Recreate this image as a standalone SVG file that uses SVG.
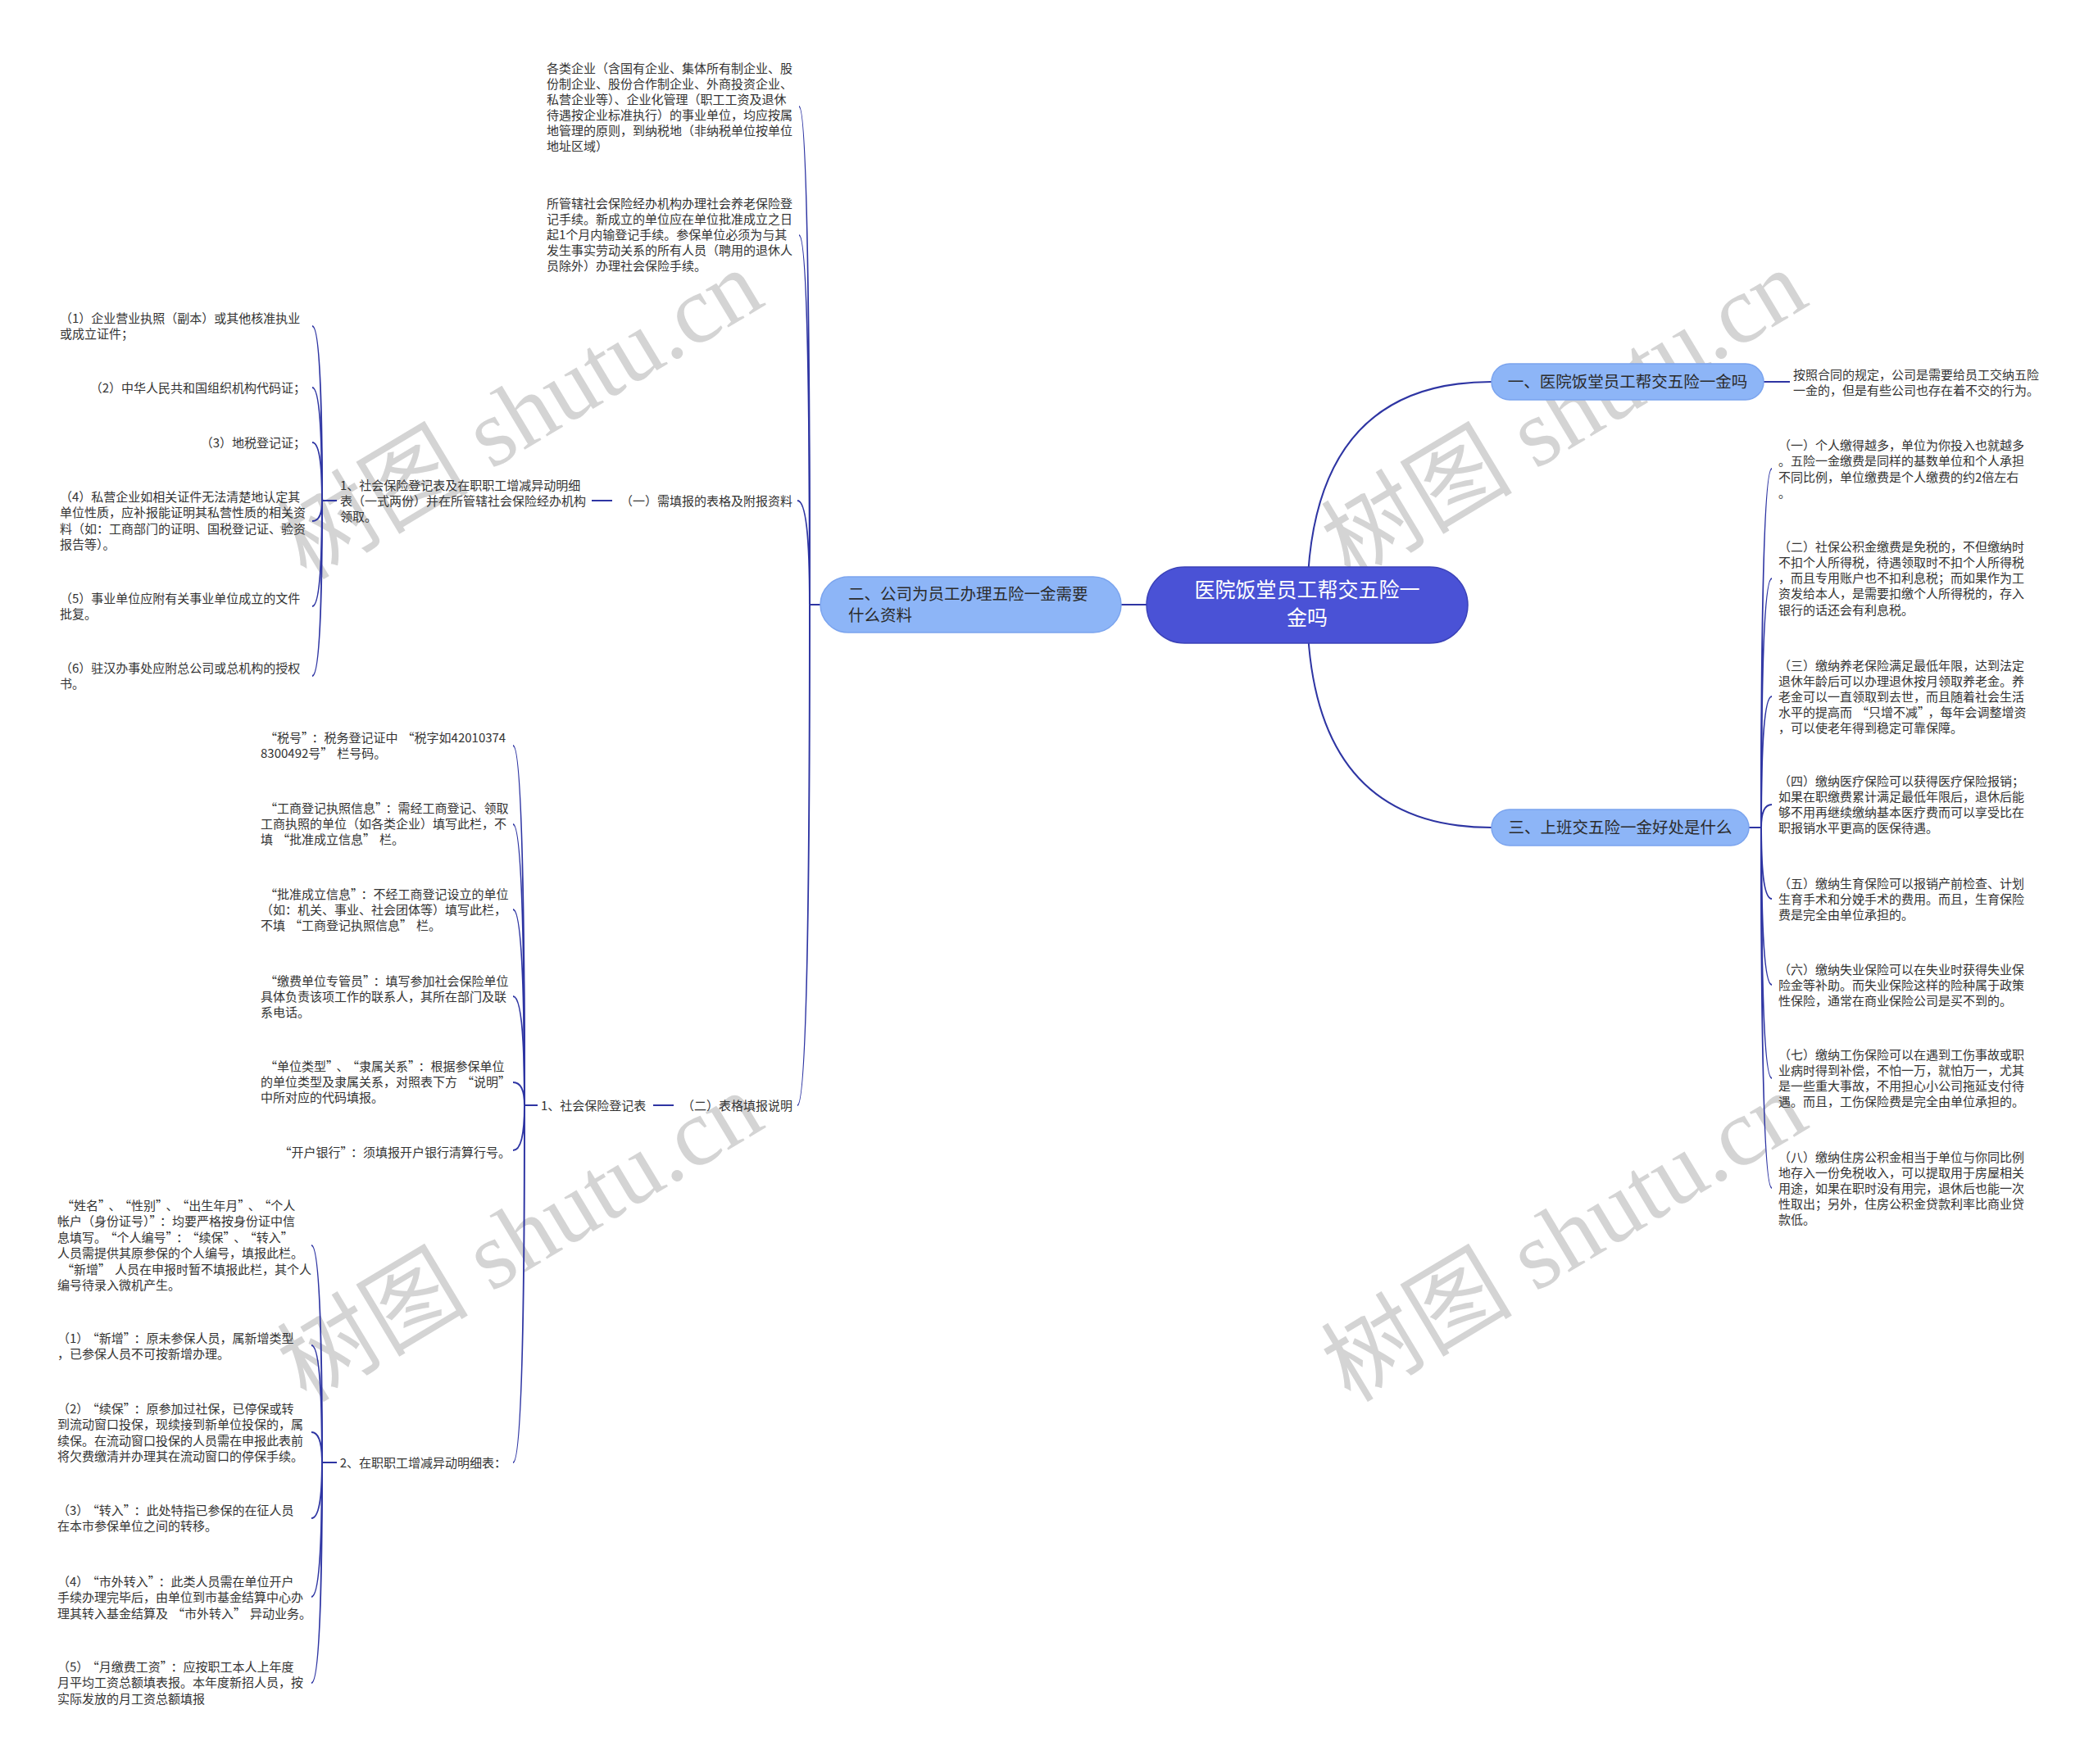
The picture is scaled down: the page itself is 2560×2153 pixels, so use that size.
<svg xmlns="http://www.w3.org/2000/svg" width="2560" height="2153" viewBox="0 0 2560 2153">
<style>
.t{font-family:'Noto Sans CJK SC','Noto Sans',sans-serif;font-size:15px;fill:#333}
.e{text-anchor:end}
.qr{letter-spacing:5px}
.n1{font-family:'Noto Sans CJK SC','Noto Sans',sans-serif;font-size:19.5px;fill:#2b2b2b}
.rt{font-family:'Noto Sans CJK SC','Noto Sans',sans-serif;font-size:25px;fill:#fff;text-anchor:middle}
.wm{font-family:'Liberation Serif','Noto Sans CJK SC',serif;font-size:117px;fill:#d4d4d4;text-anchor:middle}
.c{fill:none;stroke:#2e35a3;stroke-width:2}
.lv1{fill:#8db5f7;stroke:#7ba4ee;stroke-width:1.5}
</style>
<rect width="2560" height="2153" fill="#fff"/>
<g id="watermarks">
<text class="wm" transform="translate(655 540) rotate(-31)">树图 shutu.cn</text>
<text class="wm" transform="translate(1929 540) rotate(-31)">树图 shutu.cn</text>
<text class="wm" transform="translate(655 1544) rotate(-31)">树图 shutu.cn</text>
<text class="wm" transform="translate(1929 1544) rotate(-31)">树图 shutu.cn</text>
</g>
<g id="connectors">
<path class="c" d="M1368 738 L1400 738"/>
<path class="c" d="M1595 738 Q1595 466 1820 466"/>
<path class="c" d="M1595 738 Q1595 1010 1820 1010"/>
<path class="c" d="M2152 466 L2184 466"/>
<path class="c" d="M2134 1010 L2149 1010"/>
<path class="c" d="M2149 1010 Q2149 572 2162 572"/>
<path class="c" d="M2149 1010 Q2149 706 2162 706"/>
<path class="c" d="M2149 1010 Q2149 850 2162 850"/>
<path class="c" d="M2149 1010 Q2149 982 2162 982"/>
<path class="c" d="M2149 1010 Q2149 1097 2162 1097"/>
<path class="c" d="M2149 1010 Q2149 1202 2162 1202"/>
<path class="c" d="M2149 1010 Q2149 1316 2162 1316"/>
<path class="c" d="M2149 1010 Q2149 1450 2162 1450"/>
<path class="c" d="M1001 738 L988 738"/>
<path class="c" d="M988 738 Q988 130 975 130"/>
<path class="c" d="M988 738 Q988 287 975 287"/>
<path class="c" d="M988 738 Q988 611 973 611"/>
<path class="c" d="M988 738 Q988 1349 973 1349"/>
<path class="c" d="M722 611 L747 611"/>
<path class="c" d="M411 611 L393 611"/>
<path class="c" d="M393 611 Q393 398 381 398"/>
<path class="c" d="M393 611 Q393 473 381 473"/>
<path class="c" d="M393 611 Q393 540 381 540"/>
<path class="c" d="M393 611 Q393 636 381 636"/>
<path class="c" d="M393 611 Q393 740 381 740"/>
<path class="c" d="M393 611 Q393 825 381 825"/>
<path class="c" d="M797 1349 L822 1349"/>
<path class="c" d="M656 1349 L640 1349"/>
<path class="c" d="M640 1349 Q640 910 626 910"/>
<path class="c" d="M640 1349 Q640 1006 626 1006"/>
<path class="c" d="M640 1349 Q640 1110 626 1110"/>
<path class="c" d="M640 1349 Q640 1216 626 1216"/>
<path class="c" d="M640 1349 Q640 1321 626 1321"/>
<path class="c" d="M640 1349 Q640 1404 626 1404"/>
<path class="c" d="M640 1349 Q640 1785 626 1785"/>
<path class="c" d="M411 1785 L393 1785"/>
<path class="c" d="M393 1785 Q393 1520 380 1520"/>
<path class="c" d="M393 1785 Q393 1642 380 1642"/>
<path class="c" d="M393 1785 Q393 1748 380 1748"/>
<path class="c" d="M393 1785 Q393 1853 380 1853"/>
<path class="c" d="M393 1785 Q393 1949 380 1949"/>
<path class="c" d="M393 1785 Q393 2054 380 2054"/>
</g>
<g id="root">
<rect x="1399" y="692" width="392" height="93" rx="46.5" fill="#4a52d6" stroke="#3b42b8" stroke-width="1.5"/>
<text class="rt"><tspan x="1595" y="729">医院饭堂员工帮交五险一</tspan><tspan x="1595" y="763">金吗</tspan></text>
</g>
<g id="n1">
<rect class="lv1" x="1820" y="444" width="332" height="44" rx="22"/>
<text class="n1" x="1986" y="473" text-anchor="middle">一、医院饭堂员工帮交五险一金吗</text>
</g>
<g id="n1-1">
<text class="t"><tspan x="2188" y="462.5">按照合同的规定，公司是需要给员工交纳五险</tspan><tspan x="2188" dy="19.5">一金的，但是有些公司也存在着不交的行为。</tspan></text>
</g>
<g id="n2">
<rect class="lv1" x="1001" y="704" width="367" height="68" rx="34"/>
<text class="n1"><tspan x="1035" y="732">二、公司为员工办理五险一金需要</tspan><tspan x="1035" y="758">什么资料</tspan></text>
</g>
<g id="n3">
<rect class="lv1" x="1820" y="988" width="314" height="44" rx="22"/>
<text class="n1" x="1977" y="1017" text-anchor="middle">三、上班交五险一金好处是什么</text>
</g>
<g id="n2-a">
<text class="t"><tspan x="667" y="88.5">各类企业（含国有企业、集体所有制企业、股</tspan><tspan x="667" dy="19.1">份制企业、股份合作制企业、外商投资企业、</tspan><tspan x="667" dy="19.1">私营企业等）、企业化管理（职工工资及退休</tspan><tspan x="667" dy="19.1">待遇按企业标准执行）的事业单位，均应按属</tspan><tspan x="667" dy="19.1">地管理的原则，到纳税地（非纳税单位按单位</tspan><tspan x="667" dy="19.1">地址区域）</tspan></text>
</g>
<g id="n2-b">
<text class="t"><tspan x="667" y="253.5">所管辖社会保险经办机构办理社会养老保险登</tspan><tspan x="667" dy="19.2">记手续。新成立的单位应在单位批准成立之日</tspan><tspan x="667" dy="19.2">起1个月内输登记手续。参保单位必须为与其</tspan><tspan x="667" dy="19.2">发生事实劳动关系的所有人员（聘用的退休人</tspan><tspan x="667" dy="19.2">员除外）办理社会保险手续。</tspan></text>
</g>
<g id="n2-c">
<text class="t e" x="967" y="616.5">（一）需填报的表格及附报资料</text>
</g>
<g id="n2-c-1">
<text class="t"><tspan x="415" y="597.5">1、社会保险登记表及在职职工增减异动明细</tspan><tspan x="415" dy="19.2">表（一式两份）并在所管辖社会保险经办机构</tspan><tspan x="415" dy="19.2">领取。</tspan></text>
</g>
<g id="n2-c-1-1">
<text class="t"><tspan x="73" y="394">（1）企业营业执照（副本）或其他核准执业</tspan><tspan x="73" dy="19.2">或成立证件；</tspan></text>
</g>
<g id="n2-c-1-2"><text class="t e" x="373" y="478.5">（2）中华人民共和国组织机构代码证；</text></g>
<g id="n2-c-1-3"><text class="t e" x="373" y="545.5">（3）地税登记证；</text></g>
<g id="n2-c-1-4">
<text class="t"><tspan x="73" y="612">（4）私营企业如相关证件无法清楚地认定其</tspan><tspan x="73" dy="19.3">单位性质，应补报能证明其私营性质的相关资</tspan><tspan x="73" dy="19.3">料（如：工商部门的证明、国税登记证、验资</tspan><tspan x="73" dy="19.3">报告等）。</tspan></text>
</g>
<g id="n2-c-1-5">
<text class="t"><tspan x="73" y="735.5">（5）事业单位应附有关事业单位成立的文件</tspan><tspan x="73" dy="19.3">批复。</tspan></text>
</g>
<g id="n2-c-1-6">
<text class="t"><tspan x="73" y="820.5">（6）驻汉办事处应附总公司或总机构的授权</tspan><tspan x="73" dy="19.3">书。</tspan></text>
</g>
<g id="n2-d">
<text class="t e" x="967" y="1354.5">（二）表格填报说明</text>
</g>
<g id="n2-d-1">
<text class="t" x="660" y="1354.5">1、社会保险登记表</text>
</g>
<g id="n2-d-1-1">
<text class="t"><tspan x="318" y="905.5"><tspan dx="5">“</tspan>税号<tspan class="qr">”</tspan>：税务登记证中<tspan dx="5">“</tspan>税字如42010374</tspan><tspan x="318" dy="19.3">8300492号<tspan class="qr">”</tspan>栏号码。</tspan></text>
</g>
<g id="n2-d-1-2">
<text class="t"><tspan x="318" y="991.5"><tspan dx="5">“</tspan>工商登记执照信息<tspan class="qr">”</tspan>：需经工商登记、领取</tspan><tspan x="318" dy="19.3">工商执照的单位（如各类企业）填写此栏，不</tspan><tspan x="318" dy="19.3">填<tspan dx="5">“</tspan>批准成立信息<tspan class="qr">”</tspan>栏。</tspan></text>
</g>
<g id="n2-d-1-3">
<text class="t"><tspan x="318" y="1096.5"><tspan dx="5">“</tspan>批准成立信息<tspan class="qr">”</tspan>：不经工商登记设立的单位</tspan><tspan x="318" dy="19.3">（如：机关、事业、社会团体等）填写此栏，</tspan><tspan x="318" dy="19.3">不填<tspan dx="5">“</tspan>工商登记执照信息<tspan class="qr">”</tspan>栏。</tspan></text>
</g>
<g id="n2-d-1-4">
<text class="t"><tspan x="318" y="1202.5"><tspan dx="5">“</tspan>缴费单位专管员<tspan class="qr">”</tspan>：填写参加社会保险单位</tspan><tspan x="318" dy="19.3">具体负责该项工作的联系人，其所在部门及联</tspan><tspan x="318" dy="19.3">系电话。</tspan></text>
</g>
<g id="n2-d-1-5">
<text class="t"><tspan x="318" y="1306.5"><tspan dx="5">“</tspan>单位类型<tspan class="qr">”</tspan>、<tspan dx="5">“</tspan>隶属关系<tspan class="qr">”</tspan>：根据参保单位</tspan><tspan x="318" dy="19.3">的单位类型及隶属关系，对照表下方<tspan dx="5">“</tspan>说明<tspan class="qr">”</tspan></tspan><tspan x="318" dy="19.3">中所对应的代码填报。</tspan></text>
</g>
<g id="n2-d-1-6"><text class="t e" x="618" y="1411.5"><tspan dx="5">“</tspan>开户银行<tspan class="qr">”</tspan>：须填报开户银行清算行号。</text></g>
<g id="n2-d-1-7"><text class="t e" x="618" y="1790.5">2、在职职工增减异动明细表：</text></g>
<g id="n2-d-1-7-1">
<text class="t"><tspan x="70" y="1476.5"><tspan dx="5">“</tspan>姓名<tspan class="qr">”</tspan>、<tspan dx="5">“</tspan>性别<tspan class="qr">”</tspan>、<tspan dx="5">“</tspan>出生年月<tspan class="qr">”</tspan>、<tspan dx="5">“</tspan>个人</tspan><tspan x="70" dy="19.5">帐户（身份证号）<tspan class="qr">”</tspan>：均要严格按身份证中信</tspan><tspan x="70" dy="19.5">息填写。<tspan dx="5">“</tspan>个人编号<tspan class="qr">”</tspan>：<tspan dx="5">“</tspan>续保<tspan class="qr">”</tspan>、<tspan dx="5">“</tspan>转入<tspan class="qr">”</tspan></tspan><tspan x="70" dy="19.5">人员需提供其原参保的个人编号，填报此栏。</tspan><tspan x="70" dy="19.5"><tspan dx="5">“</tspan>新增<tspan class="qr">”</tspan>人员在申报时暂不填报此栏，其个人</tspan><tspan x="70" dy="19.5">编号待录入微机产生。</tspan></text>
</g>
<g id="n2-d-1-7-2">
<text class="t"><tspan x="70" y="1638.5">（1）<tspan dx="5">“</tspan>新增<tspan class="qr">”</tspan>：原未参保人员，属新增类型</tspan><tspan x="70" dy="19.5">，已参保人员不可按新增办理。</tspan></text>
</g>
<g id="n2-d-1-7-3">
<text class="t"><tspan x="70" y="1724.5">（2）<tspan dx="5">“</tspan>续保<tspan class="qr">”</tspan>：原参加过社保，已停保或转</tspan><tspan x="70" dy="19.5">到流动窗口投保，现续接到新单位投保的，属</tspan><tspan x="70" dy="19.5">续保。在流动窗口投保的人员需在申报此表前</tspan><tspan x="70" dy="19.5">将欠费缴清并办理其在流动窗口的停保手续。</tspan></text>
</g>
<g id="n2-d-1-7-4">
<text class="t"><tspan x="70" y="1848.5">（3）<tspan dx="5">“</tspan>转入<tspan class="qr">”</tspan>：此处特指已参保的在征人员</tspan><tspan x="70" dy="19.5">在本市参保单位之间的转移。</tspan></text>
</g>
<g id="n2-d-1-7-5">
<text class="t"><tspan x="70" y="1935.5">（4）<tspan dx="5">“</tspan>市外转入<tspan class="qr">”</tspan>：此类人员需在单位开户</tspan><tspan x="70" dy="19.5">手续办理完毕后，由单位到市基金结算中心办</tspan><tspan x="70" dy="19.5">理其转入基金结算及<tspan dx="5">“</tspan>市外转入<tspan class="qr">”</tspan>异动业务。</tspan></text>
</g>
<g id="n2-d-1-7-6">
<text class="t"><tspan x="70" y="2039.5">（5）<tspan dx="5">“</tspan>月缴费工资<tspan class="qr">”</tspan>：应按职工本人上年度</tspan><tspan x="70" dy="19.5">月平均工资总额填表报。本年度新招人员，按</tspan><tspan x="70" dy="19.5">实际发放的月工资总额填报</tspan></text>
</g>
<g id="n3-1">
<text class="t"><tspan x="2170" y="548.5">（一）个人缴得越多，单位为你投入也就越多</tspan><tspan x="2170" dy="19.5">。五险一金缴费是同样的基数单位和个人承担</tspan><tspan x="2170" dy="19.5">不同比例，单位缴费是个人缴费的约2倍左右</tspan><tspan x="2170" dy="19.5">。</tspan></text>
</g>
<g id="n3-2">
<text class="t"><tspan x="2170" y="672.5">（二）社保公积金缴费是免税的，不但缴纳时</tspan><tspan x="2170" dy="19.3">不扣个人所得税，待遇领取时不扣个人所得税</tspan><tspan x="2170" dy="19.3">，而且专用账户也不扣利息税；而如果作为工</tspan><tspan x="2170" dy="19.3">资发给本人，是需要扣缴个人所得税的，存入</tspan><tspan x="2170" dy="19.3">银行的话还会有利息税。</tspan></text>
</g>
<g id="n3-3">
<text class="t"><tspan x="2170" y="817.5">（三）缴纳养老保险满足最低年限，达到法定</tspan><tspan x="2170" dy="19.2">退休年龄后可以办理退休按月领取养老金。养</tspan><tspan x="2170" dy="19.2">老金可以一直领取到去世，而且随着社会生活</tspan><tspan x="2170" dy="19.2">水平的提高而<tspan dx="5">“</tspan>只增不减<tspan class="qr">”</tspan>，每年会调整增资</tspan><tspan x="2170" dy="19.2">，可以使老年得到稳定可靠保障。</tspan></text>
</g>
<g id="n3-4">
<text class="t"><tspan x="2170" y="958.5">（四）缴纳医疗保险可以获得医疗保险报销；</tspan><tspan x="2170" dy="19.2">如果在职缴费累计满足最低年限后，退休后能</tspan><tspan x="2170" dy="19.2">够不用再继续缴纳基本医疗费而可以享受比在</tspan><tspan x="2170" dy="19.2">职报销水平更高的医保待遇。</tspan></text>
</g>
<g id="n3-5">
<text class="t"><tspan x="2170" y="1083.5">（五）缴纳生育保险可以报销产前检查、计划</tspan><tspan x="2170" dy="19.2">生育手术和分娩手术的费用。而且，生育保险</tspan><tspan x="2170" dy="19.2">费是完全由单位承担的。</tspan></text>
</g>
<g id="n3-6">
<text class="t"><tspan x="2170" y="1188.5">（六）缴纳失业保险可以在失业时获得失业保</tspan><tspan x="2170" dy="19.2">险金等补助。而失业保险这样的险种属于政策</tspan><tspan x="2170" dy="19.2">性保险，通常在商业保险公司是买不到的。</tspan></text>
</g>
<g id="n3-7">
<text class="t"><tspan x="2170" y="1292.5">（七）缴纳工伤保险可以在遇到工伤事故或职</tspan><tspan x="2170" dy="19.3">业病时得到补偿，不怕一万，就怕万一，尤其</tspan><tspan x="2170" dy="19.3">是一些重大事故，不用担心小公司拖延支付待</tspan><tspan x="2170" dy="19.3">遇。而且，工伤保险费是完全由单位承担的。</tspan></text>
</g>
<g id="n3-8">
<text class="t"><tspan x="2170" y="1417.5">（八）缴纳住房公积金相当于单位与你同比例</tspan><tspan x="2170" dy="19.2">地存入一份免税收入，可以提取用于房屋相关</tspan><tspan x="2170" dy="19.2">用途，如果在职时没有用完，退休后也能一次</tspan><tspan x="2170" dy="19.2">性取出；另外，住房公积金贷款利率比商业贷</tspan><tspan x="2170" dy="19.2">款低。</tspan></text>
</g>
</svg>
